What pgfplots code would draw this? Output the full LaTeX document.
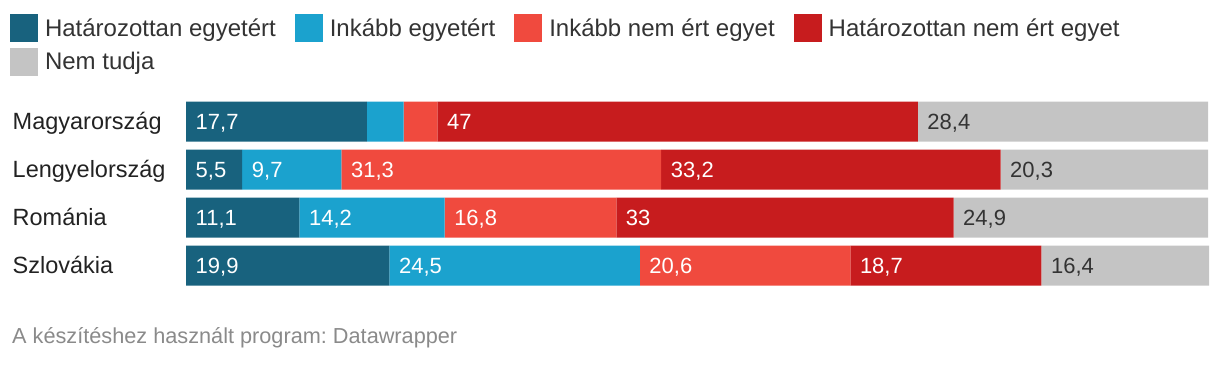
\documentclass[border=0pt]{standalone}
\usepackage{pgfplots}
\pgfplotsset{compat=1.18}
\usepackage{pgfplotstable}
\usepackage{fontspec}
\setmainfont{Liberation Sans}
\frenchspacing
\definecolor{c1}{HTML}{18627E}
\definecolor{c2}{HTML}{1BA2CE}
\definecolor{c3}{HTML}{F04A3E}
\definecolor{c4}{HTML}{C71C1E}
\definecolor{c5}{HTML}{C4C4C4}
\definecolor{txt}{HTML}{222222}
\definecolor{lbldark}{HTML}{333333}
\definecolor{foot}{HTML}{8A8A8A}
\pgfplotstableread{
y a b c d e la lb lc ld le
0 17.7 3.6 3.3 47 28.4 17,7 {} {} 47 28,4
1 5.5 9.7 31.3 33.2 20.3 5,5 9,7 31,3 33,2 20,3
2 11.1 14.2 16.8 33 24.9 11,1 14,2 16,8 33 24,9
3 19.9 24.5 20.6 18.7 16.4 19,9 24,5 20,6 18,7 16,4
}\data
\pgfplotsset{
  seglabel/.style={nodes near coords,
    visualization depends on={\thisrow{#1} \as \segw},
    every node near coord/.append style={shift={(axis direction cs:-\segw/2,0)}}}
}
\begin{document}
\begin{tikzpicture}
\path[use as bounding box] (0,0) rectangle (1220pt,364pt);
\begin{axis}[
  at={(186pt,74.5pt)}, anchor=south west,
  scale only axis, width=1022pt, height=192pt,
  xbar stacked, bar width=40pt,
  xmin=0, xmax=100, ymin=-0.5, ymax=3.5, y dir=reverse,
  axis line style={draw=none}, xtick=\empty, ytick={0,1,2,3},
  yticklabels={Magyarország,Lengyelország,Románia,Szlovákia},
  major tick length=0pt,
  yticklabel style={anchor=base west, xshift=-173.5pt, yshift=-8.4pt, inner sep=0pt,
    font=\fontsize{23.5}{27}\selectfont, text=txt},
  clip=false,
  point meta=explicit symbolic,
  every node near coord/.append style={anchor=base west, xshift=9.5pt, yshift=-7.9pt,
    inner sep=0pt, font=\fontsize{22}{26}\selectfont, text=white},
  legend image code/.code={\fill[#1,draw=none] (0pt,-14pt) rectangle (28pt,14pt);},
  legend columns=4,
  legend cell align=left,
  legend style={at={(axis description cs:-0.1722,1.4349)}, anchor=north west,
    draw=none, fill=none, inner sep=0pt, outer sep=0pt,
    font=\fontsize{24}{28}\selectfont, text=lbldark,
    nodes={inner xsep=0pt},
    /tikz/every odd column/.append style={column sep=7pt},
    /tikz/every even column/.append style={column sep=19pt},
    /tikz/row sep=6pt},
]
\addplot[draw=none, fill=c1, seglabel=a] table[x=a, y=y, meta=la] {\data};
\addlegendentry{Határozottan egyetért}
\addplot[draw=none, fill=c2, seglabel=b] table[x=b, y=y, meta=lb] {\data};
\addlegendentry{Inkább egyetért}
\addplot[draw=none, fill=c3, seglabel=c] table[x=c, y=y, meta=lc] {\data};
\addlegendentry{Inkább nem ért egyet}
\addplot[draw=none, fill=c4, seglabel=d] table[x=d, y=y, meta=ld] {\data};
\addlegendentry{Határozottan nem ért egyet}
\addplot[draw=none, fill=c5, seglabel=e, every node near coord/.append style={text=lbldark}] table[x=e, y=y, meta=le] {\data};
\addlegendentry{Nem tudja}
\end{axis}
\node[anchor=base west, inner sep=0pt, text=foot, font=\fontsize{21.7}{25}\selectfont] at (12pt,21pt) {A készítéshez használt program: Datawrapper};
\end{tikzpicture}
\end{document}
